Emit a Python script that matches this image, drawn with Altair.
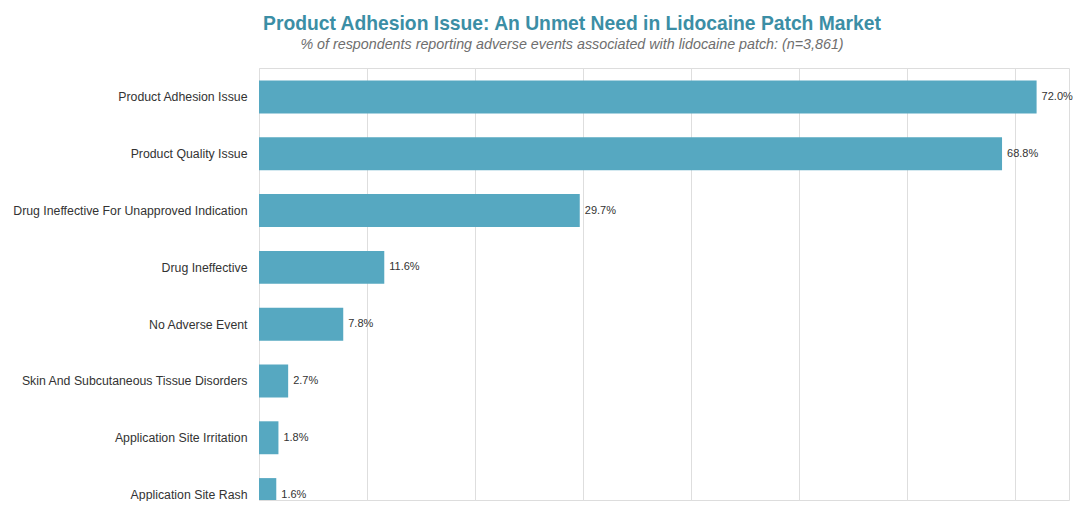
import json
import altair as alt
import pandas as pd

categories = [
    "Product Adhesion Issue",
    "Product Quality Issue",
    "Drug Ineffective For Unapproved Indication",
    "Drug Ineffective",
    "No Adverse Event",
    "Skin And Subcutaneous Tissue Disorders",
    "Application Site Irritation",
    "Application Site Rash",
]
values = [72.0, 68.8, 29.7, 11.6, 7.8, 2.7, 1.8, 1.6]
labels = ["72.0%", "68.8%", "29.7%", "11.6%", "7.8%", "2.7%", "1.8%", "1.6%"]
x_ticks = [0, 10, 20, 30, 40, 50, 60, 70]

df = pd.DataFrame({
    "idx": list(range(len(categories))),
    "category": categories,
    "value": values,
    "label": labels,
})

FONT = "Liberation Sans"
STEP = 56.8
PLOT_H = 432
top_val = -0.51
bottom_val = top_val + PLOT_H / STEP

label_expr = json.dumps(categories) + "[datum.value]"

y_scale = alt.Scale(domain=[top_val, bottom_val], reverse=True, nice=False,
                    zero=False, padding=0)
y_enc = alt.Y(
    "idx:Q",
    title=None,
    scale=y_scale,
    axis=alt.Axis(
        values=list(range(len(categories))), labelExpr=label_expr,
        grid=False, domain=False, ticks=False, labelPadding=12, labelLimit=400,
        labelFont=FONT, labelFontSize=12.3, labelColor="#333333",
        labelBaseline="middle",
        minExtent=249, maxExtent=249,
    ),
)
x_enc = alt.X(
    "value:Q",
    title=None,
    scale=alt.Scale(domain=[0, 75], nice=False),
    axis=alt.Axis(
        values=x_ticks, grid=True, gridColor="#dedede", domain=False,
        ticks=False, labels=False,
    ),
)

bars = alt.Chart(df).mark_bar(
    color="#56a8c1", clip=True, orient="horizontal", size=STEP * 0.58
).encode(x=x_enc, y=y_enc)
text = alt.Chart(df).mark_text(
    align="left", baseline="middle", dx=5, font=FONT, fontSize=11,
    color="#333333",
).encode(x="value:Q", y=alt.Y("idx:Q", scale=y_scale), text="label:N")

chart = (
    (bars + text)
    .properties(
        width=810,
        height=PLOT_H,
        padding={"left": 2, "right": 0, "top": 7, "bottom": 0},
        title=alt.TitleParams(
            text="Product Adhesion Issue: An Unmet Need in Lidocaine Patch Market",
            subtitle="% of respondents reporting adverse events associated with lidocaine patch: (n=3,861)",
            font=FONT, fontSize=19.3, fontWeight="bold", color="#3b8ea5",
            subtitleFont=FONT, subtitleFontSize=14.3, subtitleFontStyle="italic",
            subtitleColor="#6e6e6e", subtitlePadding=3,
            anchor="middle", frame="group", dx=-92, offset=16,
        ),
    )
    .configure_view(stroke=None)
    .configure(background="white")
)

chart.save("out.html", embed_options={"renderer": "svg", "actions": False})
